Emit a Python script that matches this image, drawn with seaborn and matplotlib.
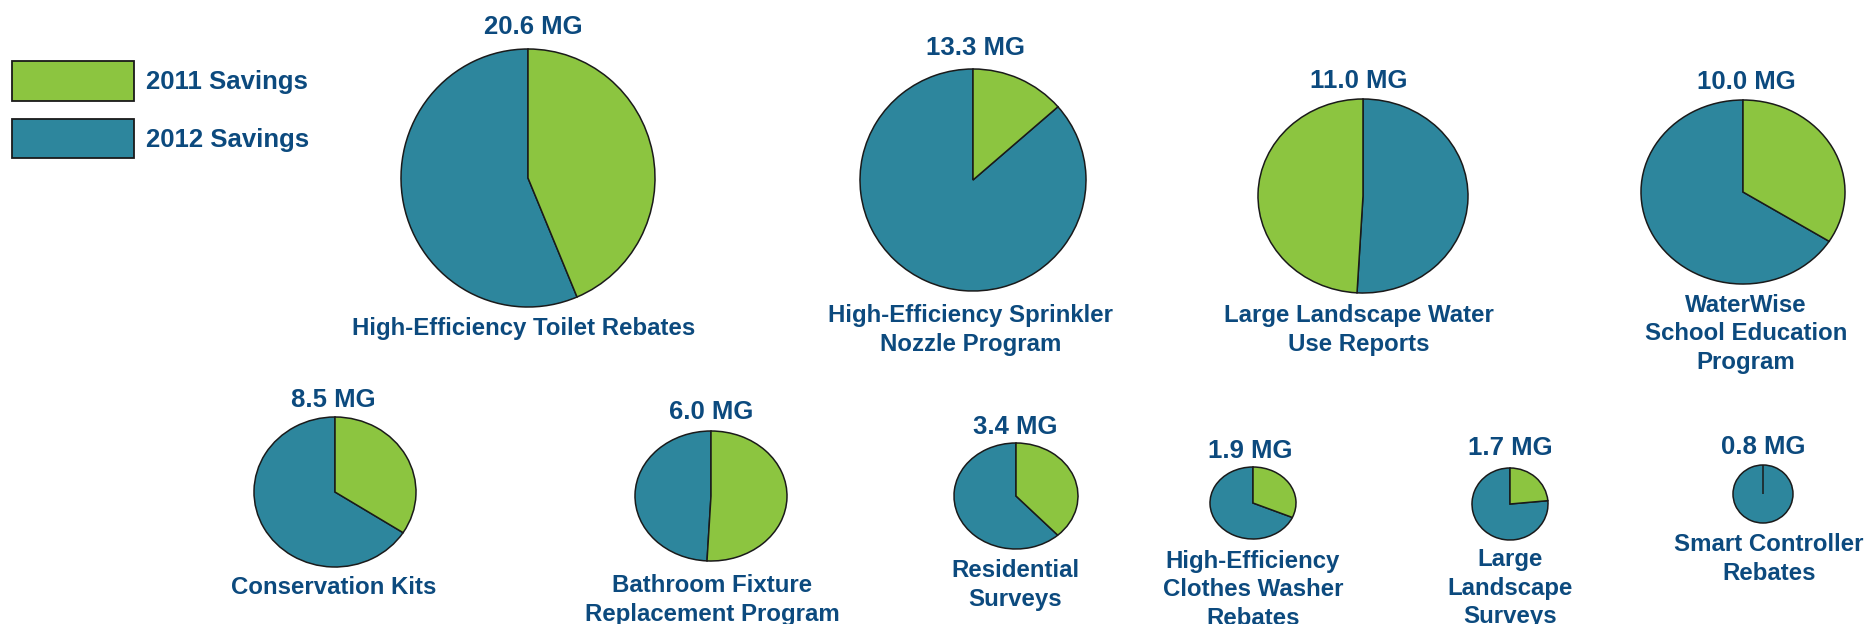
import matplotlib
matplotlib.use("Agg")
import matplotlib.pyplot as plt
import seaborn as sns
from matplotlib.patches import Patch

sns.set_theme(style="white")
plt.rcParams['font.family'] = ['Liberation Sans', 'DejaVu Sans']

# ---- data ----
programs = [
    "High-Efficiency Toilet Rebates",
    "High-Efficiency Sprinkler\nNozzle Program",
    "Large Landscape Water\nUse Reports",
    "WaterWise\nSchool Education\nProgram",
    "Conservation Kits",
    "Bathroom Fixture\nReplacement Program",
    "Residential\nSurveys",
    "High-Efficiency\nClothes Washer\nRebates",
    "Large\nLandscape\nSurveys",
    "Smart Controller\nRebates",
]
total_labels = ["20.6 MG", "13.3 MG", "11.0 MG", "10.0 MG", "8.5 MG",
                "6.0 MG", "3.4 MG", "1.9 MG", "1.7 MG", "0.8 MG"]
savings_2011 = [9.0, 1.8, 5.4, 3.4, 2.9, 3.05, 1.3, 0.6, 0.4, 0.0]
savings_2012 = [11.6, 11.5, 5.6, 6.6, 5.6, 2.95, 2.1, 1.3, 1.3, 0.8]
series_names = ["2011 Savings", "2012 Savings"]

# ---- layout (pixels) ----
W, H = 1866, 624
# center x, center y, half-width, half-height
pie_boxes = [
    (528, 178, 127, 129),
    (973, 180, 113, 111),
    (1363, 196, 105, 97),
    (1743, 192, 102, 92),
    (335, 492, 81, 75),
    (711, 496, 76, 65),
    (1016, 496, 62, 53),
    (1253, 503, 43, 36),
    (1510, 504, 38, 36),
    (1763, 494, 30, 29),
]
counterclock_flags = [False, False, True, False, False, False, False, False, False, False]
total_pos = [(533, 27), (975, 48), (1359, 81), (1746, 82), (333, 400),
             (711, 412), (1015, 427), (1250, 451), (1510, 448), (1763, 447)]
name_pos = [(524, 328), (971, 330), (1359, 330), (1746, 334), (334, 587),
            (712, 600), (1015, 585), (1253, 590), (1510, 588), (1769, 559)]

GREEN = "#8CC540"
BLUE = "#2D869D"
NAVY = "#0C4A7E"
colors = [GREEN, BLUE]

fig = plt.figure(figsize=(W / 100, H / 100), dpi=100)
fig.patch.set_facecolor("white")

base = fig.add_axes([0, 0, 1, 1])
base.set_xlim(0, W)
base.set_ylim(H, 0)
base.axis("off")

for i, (cx, cy, rx, ry) in enumerate(pie_boxes):
    ax = fig.add_axes([(cx - rx) / W, 1 - (cy + ry) / H, 2 * rx / W, 2 * ry / H])
    wedges, _ = ax.pie([savings_2011[i], savings_2012[i]], colors=colors, startangle=90,
                       counterclock=counterclock_flags[i], radius=1,
                       wedgeprops=dict(edgecolor="#1a1a1a", linewidth=1.1, clip_on=False))
    wedges[0].set_zorder(3)
    ax.set_xlim(-1, 1)
    ax.set_ylim(-1, 1)
    ax.set_aspect("auto")
    ax.axis("off")

for i in range(len(programs)):
    tx, ty = total_pos[i]
    base.text(tx, ty, total_labels[i], ha="center", va="center",
              fontsize=18.5, fontweight="bold", color=NAVY)
    nx, ny = name_pos[i]
    base.text(nx, ny, programs[i], ha="center", va="center",
              fontsize=17.3, fontweight="bold", color=NAVY, linespacing=1.3)

handles = [Patch(facecolor=c, edgecolor="#1a1a1a", linewidth=1.3) for c in colors]
leg = fig.legend(handles, series_names, loc="upper left",
                 bbox_to_anchor=(12 / W, 1 - 61 / H), frameon=False,
                 handlelength=4.75, handleheight=2.0, handletextpad=0.45,
                 labelspacing=0.7, borderpad=0, borderaxespad=0,
                 prop=dict(size=18.5, weight="bold"))
for t in leg.get_texts():
    t.set_color(NAVY)

fig.savefig("out.png", dpi=100, facecolor="white")
